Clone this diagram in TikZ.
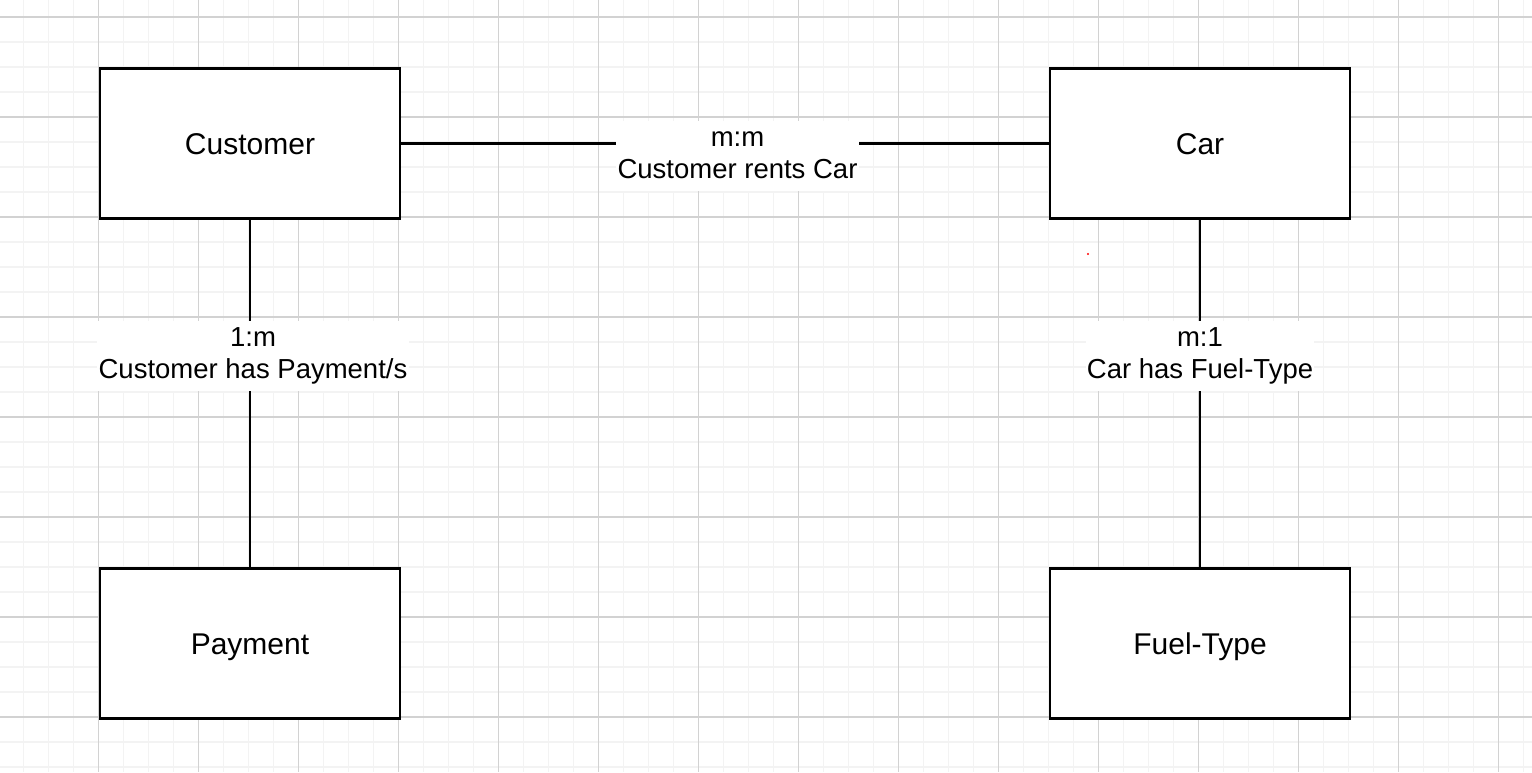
\documentclass[tikz,border=0pt]{standalone}
\usepackage{fontspec}
\setmainfont{Liberation Sans}
\definecolor{gminor}{RGB}{243,243,243}
\definecolor{gmajor}{RGB}{210,210,210}
\tikzset{
  entity/.style={draw=black, line width=1.875pt, fill=white, minimum width=225pt, minimum height=112.5pt,
    font=\fontsize{22.5pt}{27pt}\selectfont, text height=16.1pt, text depth=0pt, inner sep=0pt},
  relline/.style={draw=black, line width=1.875pt},
  rellabel/.style={fill=white, align=center, inner xsep=1pt, inner ysep=2pt,
    font=\fontsize{20.625pt}{24pt}\selectfont},
  gridminor/.style={draw=gminor, line width=1.3pt},
  gridmajor/.style={draw=gmajor, line width=1.1pt}
}
\begin{document}
\begin{tikzpicture}[x=0.75pt, y=-0.75pt]
\fill[white] (0,0) rectangle (1532,772);
\useasboundingbox (0,0) rectangle (1532,772);
% grid
\foreach \x in {-1.5,23.5,...,1540} { \draw[gridminor] (\x,0) -- (\x,772); }
\foreach \y in {-8,17,...,780} { \draw[gridminor] (0,\y) -- (1532,\y); }
\foreach \x in {-1.5,98.5,...,1540} { \draw[gridmajor] (\x,0) -- (\x,772); }
\foreach \y in {17,117,...,780} { \draw[gridmajor] (0,\y) -- (1532,\y); }
% entities
\node[entity] (cust) at (250,143.5) {Customer};
\node[entity] (car) at (1200,143.5) {Car};
\node[entity] (pay) at (250,643.5) {Payment};
\node[entity] (fuel) at (1200,643.5) {Fuel-Type};
% relationships
\draw[relline] (cust) -- (car);
\draw[relline] (cust) -- (pay);
\draw[relline] (car) -- (fuel);
\node[rellabel] (rents) at (737.5,156) {\strut m:m\\\strut Customer rents Car};
\node[rellabel] (pays) at (253,356) {\strut 1:m\\\strut Customer has Payment/s};
\node[rellabel] (fuels) at (1200,356) {\strut m:1\\\strut Car has Fuel-Type};
% stray dot
\fill[red] (1088,254) circle [radius=0.9pt];
\end{tikzpicture}
\end{document}
